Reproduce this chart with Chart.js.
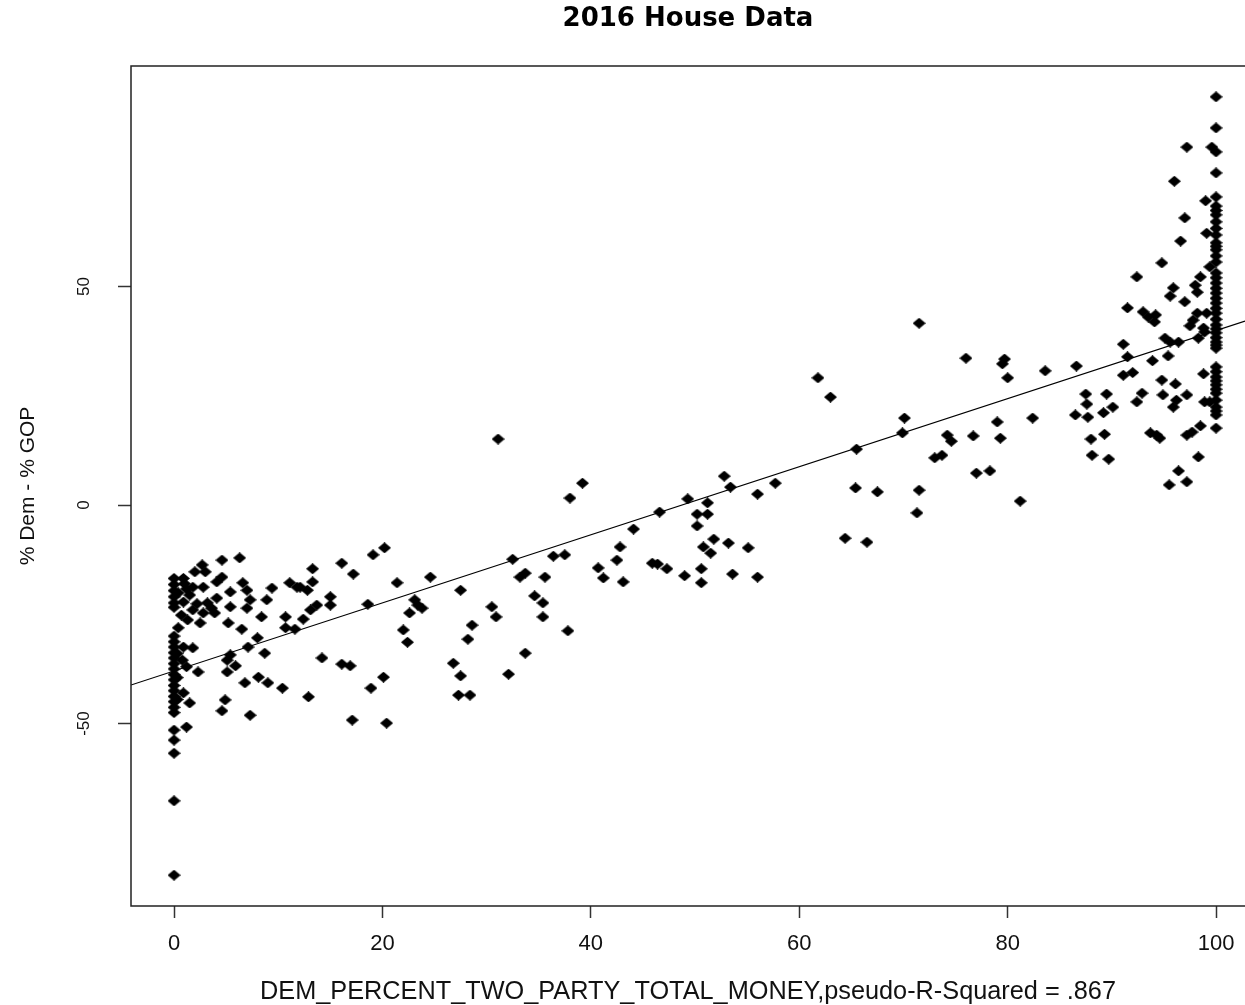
<!DOCTYPE html>
<html>
<head>
<meta charset="utf-8">
<title>2016 House Data</title>
<script src="https://cdn.jsdelivr.net/npm/chart.js@4.4.1/dist/chart.umd.min.js"></script>
<style>
  html, body { margin: 0; padding: 0; background: #fff; }
  #chartContainer { width: 1245px; height: 1005px; }
</style>
</head>
<body>
<div id="chartContainer"><canvas id="houseChart" width="1245" height="1005"></canvas></div>
<script>
// DATA ([dem % of two-party money, % dem - % gop])

// districts where dems raised (almost) nothing
const zeroMoney = [
    [0,-16.8],[0,-18.2],[0,-19.6],[0,-21],[0,-22.4],[0,-23.4],[0.4,-20.1],[0.4,-28.1],
    [0,-30],[0,-31.3],[0,-32.5],[0,-33.8],[0,-35],[0,-36.3],[0,-37.5],[0,-38.8],[0,-40],
    [0,-41.3],[0,-42.5],[0,-43.8],[0,-45],[0,-46.3],[0,-47.5],[0.3,-34],[0.3,-39.5],[0.3,-44.5],
    [0,-51.5],[0,-53.8],[0,-56.8],[0,-67.7],[0,-84.7]
];

// 0.5% - 12%
const lowMoney = [
    [0.9,-16.8],[1,-18],[1.2,-19.2],[2.7,-13.7],[2.0,-15.3],[3.0,-15.3],[4.6,-16.5],[4.1,-17.6],
    [2.8,-18.8],[1.8,-18.8],[1.5,-20.6],[4.1,-21.3],[0.9,-22.2],[2.2,-22.6],[3.2,-22.4],[3.6,-23.6],
    [1.8,-24],[3.9,-24.7],[2.8,-24.7],[0.7,-25.2],[1.3,-26.3],[2.5,-27],
    [6.3,-12.1],[4.6,-12.6],[6.6,-17.8],[11.1,-17.8],[11.8,-18.8],[9.4,-19],[7.0,-19.5],[5.4,-19.9],
    [7.3,-21.7],[8.9,-21.7],[5.4,-23.3],[7.0,-23.6],[8.4,-25.6],[10.7,-25.6],[5.2,-27],[6.5,-28.4],
    [10.7,-28.1],[11.6,-28.4],[8.0,-30.4],[7.1,-32.5],[8.7,-33.9],[0.9,-32.5],[1.8,-32.7],[0.8,-35.5],
    [1.2,-37],[2.3,-38.2],[0.9,-43],[1.5,-45.3],[5.4,-34.3],[5.1,-35.5],[5.9,-36.8],[5.1,-38.2],
    [6.8,-40.7],[8.1,-39.4],[9.0,-40.7],[10.4,-41.9],[4.9,-44.6],[4.6,-47.1],[7.3,-48.1],[1.2,-50.8]
];

// 12% - 45%
const midLowMoney = [
    [20.2,-9.8],[19.1,-11.4],[16.1,-13.3],[13.3,-14.6],[17.2,-15.8],[24.6,-16.5],[21.4,-17.8],[12.1,-18.8],
    [12.8,-19.5],[13.3,-17.6],[15.0,-21],[15.0,-22.9],[13.7,-22.9],[13.1,-24],[18.6,-22.7],[23.1,-21.7],
    [23.4,-22.9],[23.8,-23.6],[22.6,-24.7],[12.4,-26.1],[22.0,-28.6],[22.4,-31.4],[14.2,-35],[16.1,-36.4],
    [16.9,-36.8],[20.1,-39.4],[18.9,-41.9],[12.9,-43.9],[17.1,-49.2],[20.4,-49.9],[26.8,-36.2],[27.5,-39.1],
    [27.3,-43.5],[28.4,-43.5],[27.5,-19.5],
    [31.1,15.1],[39.2,5.0],[38.0,1.6],[32.5,-12.4],[36.4,-11.7],[37.5,-11.4],[33.7,-15.6],[33.2,-16.5],
    [35.6,-16.5],[40.7,-14.4],[41.2,-16.7],[42.5,-12.6],[42.8,-9.6],[34.6,-20.8],[35.4,-22.4],[30.5,-23.3],
    [30.9,-25.6],[35.4,-25.6],[28.6,-27.5],[28.2,-30.7],[37.8,-28.8],[33.7,-33.9],[32.1,-38.7],[44.1,-5.5],
    [43.1,-17.6]
];

// 45% - 80%
const midMoney = [
    [52.8,6.6],[53.4,4.1],[57.7,5.0],[56.0,2.5],[49.3,1.4],[51.2,0.5],[46.6,-1.6],[50.2,-2.1],
    [51.2,-2.1],[50.2,-4.8],[51.8,-7.8],[53.2,-8.7],[50.8,-9.6],[51.5,-11.0],[55.1,-9.8],[45.9,-13.3],
    [46.4,-13.5],[47.3,-14.6],[49.0,-16.2],[50.6,-14.6],[50.6,-17.8],[53.6,-15.8],[56.0,-16.5],
    [71.5,41.6],[76.0,33.6],[61.8,29.1],[63.0,24.7],[70.1,19.9],[69.9,16.5],[65.5,12.8],[79.0,19.0],
    [79.3,15.3],[74.2,16.0],[74.6,14.6],[76.7,15.8],[73.0,10.8],[73.7,11.4],[77.0,7.3],[78.3,7.8],
    [65.4,3.9],[67.5,3.0],[71.5,3.4],[71.3,-1.8],[64.4,-7.6],[66.5,-8.5],[79.7,33.4],[79.5,32.3],[80.0,29.1]
];

// 80% - 95%
const highMoney = [
    [81.2,0.9],[83.6,30.7],[86.6,31.8],[87.5,25.4],[89.5,25.4],[87.6,23.1],[90.1,22.4],[89.2,21.1],
    [86.5,20.6],[87.7,20.1],[82.4,19.9],[88.0,15.1],[89.3,16.2],[88.1,11.4],[89.7,10.5],[91.5,45.1],
    [91.1,36.8],[91.5,33.9],[91.1,29.7],[92.0,30.3],[92.4,52.2],[93.0,44.2],[93.5,43.0],[94.2,43.5],
    [94.1,41.9],[93.9,33.0],[94.8,28.6],[94.9,25.2],[92.9,25.6],[92.4,23.6],[93.7,16.5],[94.3,16.0],
    [94.6,15.3],[94.8,55.4]
];

// 95% - 100%
const fullMoney = [
    [95.4,34.1],[95.1,38.2],[95.6,37.3],[96.4,37.3],[96.1,27.7],[97.2,25.2],[96.2,24.0],[95.9,22.4],
    [95.9,49.7],[98.0,50.3],[95.6,47.8],[97.0,46.5],[98.2,48.7],[98.2,43.9],[99.1,43.9],[97.8,42.3],
    [97.5,41.0],[98.8,40.5],[98.3,38.2],[98.9,39.6],[98.8,30.0],[99.4,23.6],[98.9,23.6],[98.5,18.1],
    [97.7,16.7],[97.2,16.0],[98.3,11.0],[96.4,7.8],[97.2,5.3],[95.5,4.6],
    [97.2,81.9],[99.6,81.9],[96.0,74.1],[99.0,69.6],[97.0,65.7],[99.1,62.2],[96.6,60.4],[99.4,54.5],[98.5,52.2],
    [100,93.4],[100,86.3],[100,80.8],[100,76.0],[100,70.5],[100,68.4],[100,67.4],[100,66.4],[100,64.8],
    [100,63.3],[100,61.8],[100,60.0],[100,59.2],[100,58.4],[100,57.0],[100,55.6],[100,53.1],[100,52.0],
    [100,50.8],[100,49.6],[100,48.5],[100,47.3],[100,46.2],[100,45.0],[100,43.9],[100,42.5],[100,41.2],
    [100,40.3],[100,39.4],[100,38.3],[100,37.3],[100,36.6],[100,35.9],[100,31.6],[100,30.5],[100,29.3],
    [100,28.4],[100,27.5],[100,26.5],[100,25.6],[100,24.0],[100,22.4],[100,21.5],[100,20.6],[100,17.6]
];

// fitted line, endpoints read at the plot edges
const fitLine = [[-4.13,-41.2],[102.78,42.1]];

const xTicks = [0, 20, 40, 60, 80, 100];
const yTicks = [-50, 0, 50];
const xRange = [-4.13, 102.78];
const yRange = [-91.76, 100.46];

const chartTitle = '2016 House Data';
const xTitle = 'DEM_PERCENT_TWO_PARTY_TOTAL_MONEY,pseudo-R-Squared = .867';
const yTitle = '% Dem - % GOP';

// ----------------------------------------------------------------------------------------------------------------------------

// R's pch 18: a filled diamond a bit wider than tall
function diamondGlyph(w, h) {
    const c = document.createElement('canvas');
    c.width = w;
    c.height = h;
    const g = c.getContext('2d');
    g.fillStyle = '#000';
    g.beginPath();
    g.moveTo(w / 2, 0);
    g.lineTo(w, h / 2);
    g.lineTo(w / 2, h);
    g.lineTo(0, h / 2);
    g.closePath();
    g.fill();
    return c;
}

const toXY = (pairs) => pairs.map(([x, y]) => ({ x: x, y: y }));

// box (left, top, bottom - right side runs off the picture) and rotated y tick labels
const rFrame = {
    id: 'rFrame',
    afterDraw(chart) {
        const { ctx, chartArea: a } = chart;
        ctx.save();
        ctx.strokeStyle = '#222';
        ctx.lineWidth = 1.5;
        ctx.beginPath();
        ctx.moveTo(chart.width, a.top);
        ctx.lineTo(a.left, a.top);
        ctx.lineTo(a.left, a.bottom);
        ctx.lineTo(chart.width, a.bottom);
        ctx.stroke();

        const yScale = chart.scales.y;
        ctx.fillStyle = '#111';
        ctx.font = '17px "Liberation Sans", Arial, sans-serif';
        ctx.textAlign = 'center';
        ctx.textBaseline = 'middle';
        yTicks.forEach(v => {
            ctx.save();
            ctx.translate(84, yScale.getPixelForValue(v));
            ctx.rotate(-Math.PI / 2);
            ctx.fillText(String(v), 0, 0);
            ctx.restore();
        });
        ctx.restore();
    }
};

const allPoints = [].concat(zeroMoney, lowMoney, midLowMoney, midMoney, highMoney, fullMoney);

const ctx = document.getElementById('houseChart').getContext('2d');
const houseChart = new Chart(ctx, {
    type: 'scatter',
    data: {
        datasets: [{
            label: 'fit',
            data: toXY(fitLine),
            showLine: true,
            borderColor: '#000',
            borderWidth: 1.2,
            pointRadius: 0,
            fill: false
        }, {
            label: 'districts',
            data: toXY(allPoints),
            pointStyle: diamondGlyph(13, 11),
            pointRadius: 6,
            pointBackgroundColor: '#000',
            pointBorderWidth: 0
        }]
    },
    options: {
        responsive: false,
        animation: false,
        layout: { padding: 0, autoPadding: false }, // no extra room for point radius
        plugins: {
            legend: { display: false },
            tooltip: { enabled: false },
            title: {
                display: true,
                text: chartTitle,
                fullSize: false,
                color: '#000',
                font: { family: '"DejaVu Sans", sans-serif', weight: 'bold', size: 26, lineHeight: 1 },
                padding: { top: 6, bottom: 34 }
            }
        },
        scales: {
            x: {
                type: 'linear',
                min: xRange[0],
                max: xRange[1],
                afterBuildTicks: (s) => { s.ticks = xTicks.map(v => ({ value: v })); },
                afterFit: (s) => { s.height = 99; s.paddingLeft = 0; s.paddingRight = 0; },
                border: { display: false },
                grid: { drawOnChartArea: false, drawTicks: true, tickLength: 12, tickColor: '#333', tickWidth: 1.5 },
                ticks: {
                    color: '#111',
                    font: { family: '"Liberation Sans", Arial, sans-serif', size: 22 },
                    padding: 13,
                    maxRotation: 0,
                    autoSkip: false
                },
                title: {
                    display: true,
                    text: xTitle,
                    color: '#111',
                    font: { family: '"Liberation Sans", Arial, sans-serif', size: 25.3, lineHeight: 1 },
                    padding: { top: 0, bottom: 0 }
                }
            },
            y: {
                type: 'linear',
                min: yRange[0],
                max: yRange[1],
                afterBuildTicks: (s) => { s.ticks = yTicks.map(v => ({ value: v })); },
                afterFit: (s) => { s.width = 131; s.paddingTop = 0; s.paddingBottom = 0; },
                border: { display: false },
                grid: { drawOnChartArea: false, drawTicks: true, tickLength: 13, tickColor: '#333', tickWidth: 1.5 },
                ticks: { display: false },
                title: {
                    display: true,
                    text: yTitle,
                    color: '#111',
                    font: { family: '"Liberation Sans", Arial, sans-serif', size: 21, lineHeight: 1 },
                    padding: { top: 18, bottom: 0 }
                }
            }
        }
    },
    plugins: [rFrame]
});
</script>
</body>
</html>
